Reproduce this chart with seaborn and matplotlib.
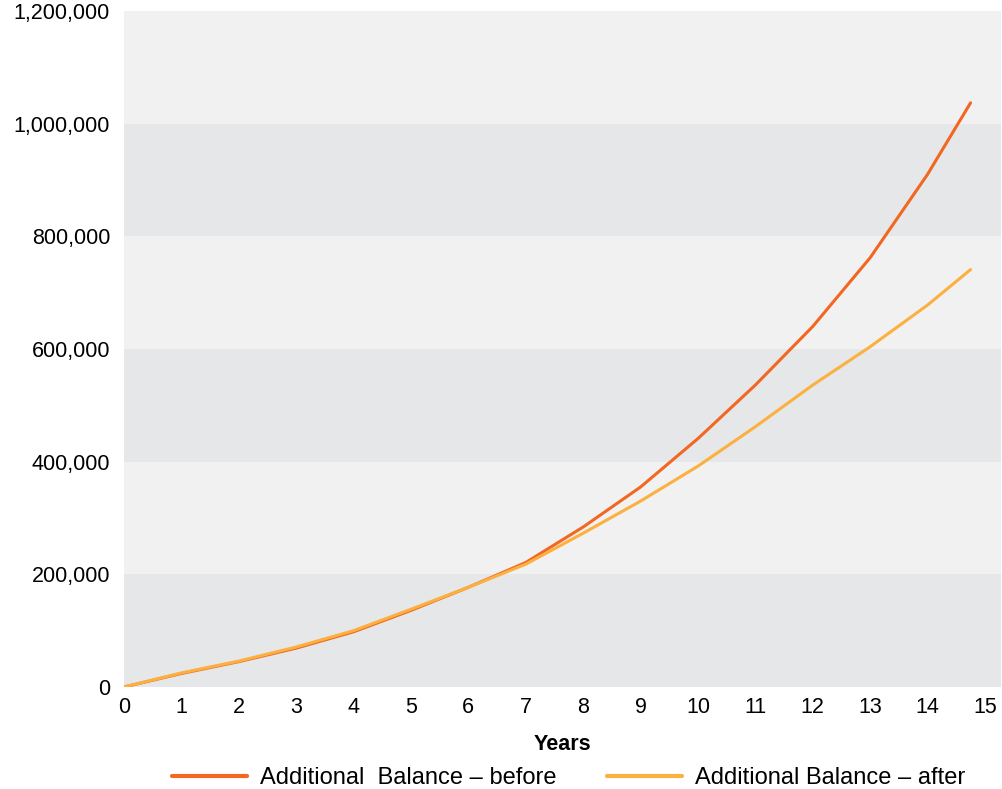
import matplotlib
matplotlib.use('Agg')
import matplotlib.pyplot as plt
import seaborn as sns
import pandas as pd

# values
years = [0, 1, 2, 3, 4, 5, 6, 7, 8, 9, 10, 11, 12, 13, 14, 14.75]
balance_before = [0, 24000, 45000, 69000, 98000, 136000, 177000, 221000, 284000,
                  355000, 441000, 536000, 640000, 762000, 910000, 1037000]
balance_after = [0, 25000, 46000, 71000, 100000, 138000, 177000, 218000, 273000,
                 330000, 392000, 462000, 536000, 604000, 678000, 741000]
labels = ["Additional  Balance \u2013 before", "Additional Balance \u2013 after"]
colors = ["#f26722", "#fbb040"]

df = pd.DataFrame({"Years": years, "before": balance_before, "after": balance_after})

sns.set_style("white")
plt.rcParams['font.family'] = ['Liberation Sans', 'DejaVu Sans']

fig = plt.figure(figsize=(10.02, 7.89), dpi=100)
ax = fig.add_axes([124 / 1002, 1 - 687 / 789, (1001 - 124) / 1002, (687 - 11) / 789])

# alternating horizontal bands
band_colors = ["#e6e7e8", "#f1f1f1"]
for i in range(6):
    ax.axhspan(i * 200000, (i + 1) * 200000, color=band_colors[i % 2], lw=0, zorder=0)

sns.lineplot(data=df, x="Years", y="before", color=colors[0], lw=2.2, label=labels[0], ax=ax)
sns.lineplot(data=df, x="Years", y="after", color=colors[1], lw=2.2, label=labels[1], ax=ax)

ax.set_xlim(0, 15.28)
ax.set_ylim(0, 1200000)
ax.set_xticks(range(16))
ax.set_yticks(range(0, 1200001, 200000))
ax.set_yticklabels([f"{v:,}" for v in range(0, 1200001, 200000)])
ax.tick_params(axis='both', length=0, labelsize=15.5, colors='black')
ax.tick_params(axis='y', pad=10)
ax.tick_params(axis='x', pad=7)
for s in ax.spines.values():
    s.set_visible(False)

ax.set_xlabel("Years", fontsize=15.5, fontweight='bold', labelpad=12, color='black')
ax.set_ylabel("")

ax.legend(loc='center', bbox_to_anchor=(0.507, -0.1346), ncol=2, frameon=False,
          fontsize=17, handlelength=3.2, handletextpad=0.55, columnspacing=2.1,
          labelcolor='black', borderaxespad=0, borderpad=0)
for line in ax.get_legend().get_lines():
    line.set_linewidth(3)

fig.savefig("out.png", dpi=100)
